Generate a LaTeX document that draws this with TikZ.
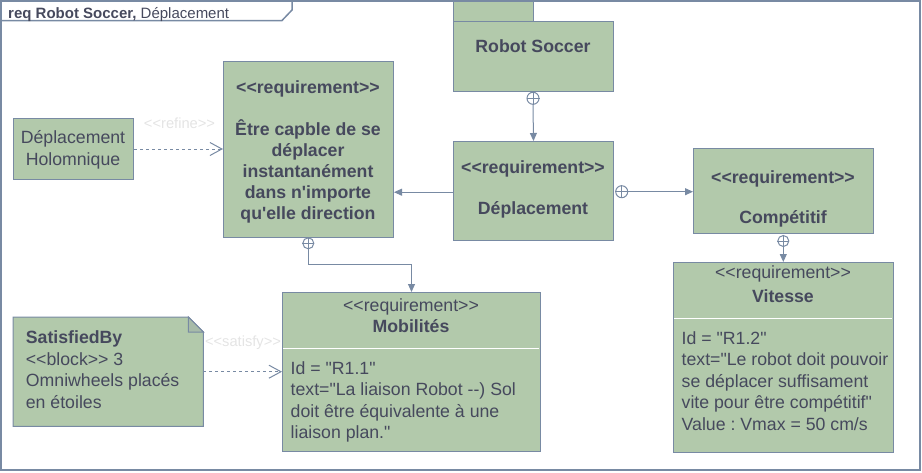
\documentclass[tikz,border=0pt]{standalone}
\usepackage{fontspec}
\setmainfont{Liberation Sans}
\newfontfamily\lib{Liberation Sans}
\usetikzlibrary{arrows.meta}
\frenchspacing
\definecolor{fillg}{HTML}{B2C9AB}
\definecolor{strk}{HTML}{788AA3}
\definecolor{txt}{HTML}{46495D}
\definecolor{lbl}{HTML}{E4E4E4}
\definecolor{foldc}{HTML}{A7BBA9}
\tikzset{
  box/.style={draw=strk, fill=fillg, line width=1pt, inner sep=0pt, anchor=north west},
  txtn/.style={font=\lib\fontsize{17.7}{21.3}\selectfont\frenchspacing, text=txt, inner sep=0pt},
  hd/.style={txtn, anchor=base},
  hdb/.style={txtn, anchor=base, font=\lib\fontsize{17.7}{21.3}\selectfont\bfseries},
  bodyt/.style={txtn, anchor=base west},
  elabel/.style={font=\lib\fontsize{14.7}{17}\selectfont, text=lbl, inner sep=0pt, anchor=base},
  contain/.style={draw=strk, line width=1pt, -{Triangle[length=8pt,width=7pt]}},
  dep/.style={draw=strk, line width=1pt, dash pattern=on 3pt off 3pt, -{Straight Barb[length=12pt,width=13pt]}},
  plus/.style={circle, draw=strk, line width=1pt, fill=white, minimum size=12pt, inner sep=0pt},
  frame/.style={draw=strk, line width=1.5pt},
  sep/.style={draw=white, line width=1pt},
}
\begin{document}
\begin{tikzpicture}[x=1pt,y=-1pt]
\useasboundingbox (0,0) rectangle (922,472);
% frame
\draw[frame] (1,1) rectangle (920,470);
\draw[frame] (1,20.5) -- (282,20.5) -- (292,10) -- (292,1);
\node[anchor=base west, inner sep=0pt, text=txt, font=\lib\fontsize{15}{18}\selectfont] (ftitle) at (8,18.5) {\textbf{req Robot Soccer,} Déplacement};

% package Robot Soccer
\node[box, minimum width=80pt, minimum height=20pt] (rstab) at (453,1) {};
\node[box, minimum width=160pt, minimum height=70pt] (rs) at (453,21) {};
\node[hdb] (rst) at (533,52) {Robot Soccer};

% Etre capable
\node[box, minimum width=170pt, minimum height=176pt] (ete) at (223,61) {};
\node[hdb] (et0) at (308,93) {<<requirement>>};
\foreach \t [count=\i from 0] in {{Être capble de se},{déplacer},{instantanément},{dans n'importe},{qu'elle direction}}
  \node[hdb, name=et\i b] at (308,{135+21*\i}) {\t};

% Deplacement
\node[box, minimum width=160pt, minimum height=99pt] (dep) at (453,141) {};
\node[hdb] (dep1) at (533,173.5) {<<requirement>>};
\node[hdb] (dep2) at (533,214) {Déplacement};

% Competitif
\node[box, minimum width=180pt, minimum height=85pt] (comp) at (693,148) {};
\node[hdb] (comp1) at (783,183) {<<requirement>>};
\node[hdb] (comp2) at (783,223) {Compétitif};

% Vitesse
\node[box, minimum width=220pt, minimum height=190pt] (vit) at (673,262) {};
\draw[sep] (674,318) -- (892,318);
\node[hd] (vit1) at (783,278) {<<requirement>>};
\node[hdb] (vit2) at (783,302) {Vitesse};
\foreach \t [count=\i from 0] in {{Id = "R1.2"},{text="Le robot doit pouvoir},{se déplacer suffisament},{vite pour être compétitif"},{Value : Vmax = 50 cm/s}}
  \node[bodyt, name=vb\i] at (681.5,{344+21.5*\i}) {\t};

% Mobilites
\node[box, minimum width=258pt, minimum height=159pt] (mob) at (282,292) {};
\draw[sep] (283,348) -- (539,348);
\node[hd] (mob1) at (411,311) {<<requirement>>};
\node[hdb] (mob2) at (411,332.5) {Mobilités};
\foreach \t [count=\i from 0] in {{Id = "R1.1"},{text="La liaison Robot --) Sol},{doit être équivalente à une},{liaison plan."}}
  \node[bodyt, name=mb\i] at (290.5,{374+21.5*\i}) {\t};

% Deplacement Holomnique
\node[box, minimum width=120pt, minimum height=61pt] (hol) at (13,118) {};
\node[hd] (hol1) at (73,143.3) {Déplacement};
\node[hd] (hol2) at (73,165) {Holomnique};

% Note
\node[inner sep=0pt, minimum width=190pt, minimum height=109pt, anchor=north west] (note) at (13,317) {};
\draw[draw=strk, fill=fillg, line width=1pt] (note.north west) -- ([xshift=-15pt]note.north east) -- ([yshift=-15pt]note.north east) -- (note.south east) -- (note.south west) -- cycle;
\draw[draw=strk, fill=foldc, line width=1pt] ([xshift=-15pt]note.north east) -- ([xshift=-15pt,yshift=-15pt]note.north east) -- ([yshift=-15pt]note.north east) -- cycle;
\node[bodyt, font=\lib\fontsize{17.7}{21.3}\selectfont\bfseries] (n0) at (25.7,343.3) {SatisfiedBy};
\node[bodyt] (n1) at (25.7,365) {<<block>> 3};
\node[bodyt] (n2) at (25.7,386.7) {Omniwheels placés};
\node[bodyt] (n3) at (25.7,408.3) {en étoiles};

% connectors
\node[plus] (p1) at (533,98.3) {};
\draw[strk, line width=1pt] (p1.north) -- (p1.south) (p1.west) -- (p1.east);
\draw[contain] (p1.south) -- (dep.north);

\draw[contain] ([yshift=-1.2pt]dep.west) -- ([yshift=-1.2pt]dep.west -| ete.east);

\node[plus] (p2) at (621.7,191.7) {};
\draw[strk, line width=1pt] (p2.north) -- (p2.south) (p2.west) -- (p2.east);
\draw[contain] (p2.east) -- (p2.east -| comp.west);

\node[plus, minimum size=11pt] (p3) at (783.3,241) {};
\draw[strk, line width=1pt] (p3.north) -- (p3.south) (p3.west) -- (p3.east);
\draw[contain] (p3.south) -- (p3.south |- vit.north);

\node[plus, minimum size=11pt] (p4) at (308.3,243.3) {};
\draw[strk, line width=1pt] (p4.north) -- (p4.south) (p4.west) -- (p4.east);
\draw[contain] (p4.south) |- ([yshift=28pt]mob.north) -- (mob.north);

\draw[dep] (hol.east) -- (hol.east -| ete.west);
\node[elabel] (reflbl) at (179.5,128) {<<refine>>};

\draw[dep] (note.east) -- (note.east -| mob.west);
\node[elabel] (satlbl) at (243,346) {<<satisfy>>};
\end{tikzpicture}
\end{document}
